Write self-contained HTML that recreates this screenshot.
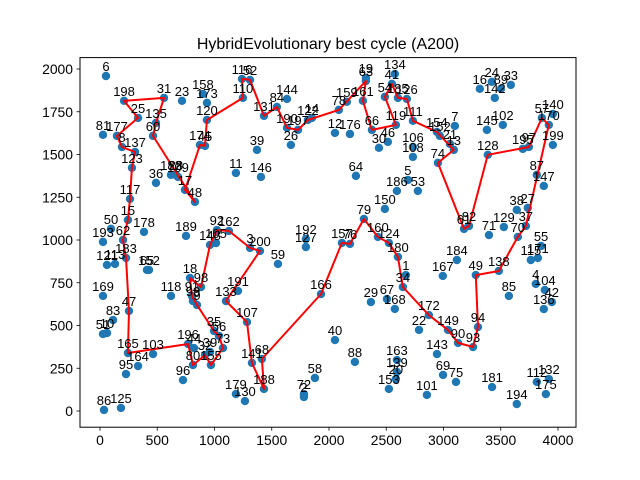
<!DOCTYPE html>
<html><head><meta charset="utf-8"><style>
body{margin:0;background:#fff;}
svg{display:block;font-family:"Liberation Sans","DejaVu Sans",sans-serif;}
</style></head><body>
<svg id="chart" width="640" height="480" xmlns="http://www.w3.org/2000/svg">
<rect x="0" y="0" width="640" height="480" fill="#fff"/>
<text x="328" y="49" font-size="16" text-anchor="middle">HybridEvolutionary best cycle (A200)</text>
<g id="plot"></g>
<rect x="80" y="57.6" width="496" height="369.6" fill="none" stroke="#000" stroke-width="1"/>
</svg>
<script>
const cityLabels=[6,198,31,23,158,173,120,25,135,60,81,177,8,137,123,36,182,28,109,17,48,174,45,11,117,15,50,178,189,193,62,116,52,110,131,84,144,190,197,26,122,14,39,146,78,159,12,176,19,63,161,66,30,46,134,41,54,185,119,64,186,150,79,192,127,157,76,160,124,200,3,126,111,154,152,21,13,7,74,106,108,5,53,16,24,89,33,142,145,102,128,57,140,170,199,195,97,87,147,38,27,37,129,70,71,61,82,55,183,121,113,65,152,169,47,83,51,10,165,103,164,95,86,125,118,18,98,91,99,9,196,44,80,32,39,155,35,56,73,96,191,133,107,179,130,141,68,188,59,166,40,58,72,2,88,29,67,168,180,1,34,163,139,20,153,184,167,49,138,85,115,171,4,104,42,136,172,22,149,90,93,94,143,69,75,101,181,194,112,132,175,92,105,148,162];
const cityX=[52,210,559,716,899,934,934,332,489,463,26,148,192,306,279,489,620,663,681,742,829,873,917,1187,262,244,96,384,751,26,201,1240,1310,1248,1432,1545,1633,1633,1729,1667,1816,1851,1371,1406,2086,2156,2052,2183,2322,2322,2296,2375,2436,2514,2575,2549,2488,2602,2584,2235,2593,2488,2305,1798,1798,2113,2183,2427,2523,1397,1310,2680,2733,2942,2968,3056,3090,3099,2951,2733,2733,2689,2776,3317,3422,3501,3588,3448,3379,3518,3387,3859,3955,3920,3955,3693,3745,3815,3876,3640,3736,3719,3527,3649,3397,3179,3223,3852,227,61,131,410,428,26,253,114,26,61,244,463,332,227,35,183,620,786,882,803,812,847,769,821,812,917,961,969,996,1039,1074,725,1205,1100,1284,1187,1266,1327,1414,1432,1554,1930,2052,1877,1781,1781,2226,2366,2506,2575,2602,2671,2645,2593,2593,2584,2523,3117,2994,3282,3483,3571,3763,3824,3806,3885,3946,3876,2872,2786,3039,3127,3258,3301,2943,2996,3109,2855,3424,3640,3815,3920,3894,1021,1013,961,1126];
const cityY=[1959,1814,1831,1814,1854,1802,1702,1714,1685,1609,1615,1609,1544,1515,1422,1334,1381,1381,1369,1293,1223,1556,1550,1392,1240,1117,1065,1047,1024,989,1000,1942,1936,1831,1726,1778,1825,1656,1644,1556,1702,1714,1527,1369,1761,1808,1626,1620,1948,1930,1814,1644,1539,1574,1971,1913,1837,1831,1673,1375,1287,1182,1123,1006,959,983,977,1018,983,936,954,1825,1697,1632,1609,1562,1527,1667,1451,1544,1486,1351,1287,1884,1925,1884,1907,1831,1644,1673,1498,1714,1737,1673,1556,1533,1544,1381,1316,1176,1188,1082,1076,1018,1029,1065,1082,965,895,854,860,825,825,673,585,532,450,456,339,333,263,216,6,18,673,778,725,673,643,620,392,368,269,327,345,269,468,439,368,181,702,643,520,99,58,281,304,129,860,684,415,193,99,82,287,637,655,597,901,795,725,298,228,187,129,883,790,795,819,673,883,895,743,708,637,596,561,474,474,398,374,491,333,211,170,94,140,41,170,187,99,1058,982,971,1053];
const tour=[120,110,116,52,131,84,190,197,122,78,63,161,66,119,54,41,185,126,111,154,13,74,61,82,128,97,57,170,37,70,138,49,94,93,90,149,172,34,180,124,160,79,76,157,166,68,188,141,107,133,200,3,162,92,148,98,18,91,9,35,56,73,155,32,80,196,165,47,183,62,15,117,123,137,8,177,25,198,31,135,60,48,17,174,45];
const xTicks=[0,500,1000,1500,2000,2500,3000,3500,4000];
const yTicks=[0,250,500,750,1000,1250,1500,1750,2000];

const NS="http://www.w3.org/2000/svg";
const sx=v=>100+v*0.1145;
const sy=v=>411-v*0.171;
const svg=document.getElementById('chart');
const plot=document.getElementById('plot');
function mk(tag,attrs,parent){const e=document.createElementNS(NS,tag);for(const k in attrs)e.setAttribute(k,attrs[k]);(parent||plot).appendChild(e);return e;}

xTicks.forEach(t=>{
  const x=sx(t);
  const l=mk('line',{x1:x,x2:x,y1:427.2,y2:430.7,stroke:'#000','stroke-width':0.8},svg);
  
  
  const tx=mk('text',{x:x,y:445,'font-size':13.9,'text-anchor':'middle'},svg);
  tx.textContent=t;
  
  
});
yTicks.forEach(t=>{
  const y=sy(t);
  const l=mk('line',{x1:76.5,x2:80,y1:y,y2:y,stroke:'#000','stroke-width':0.8},svg);
  
  
  const tx=mk('text',{x:73,y:y+5,'font-size':13.9,'text-anchor':'end'},svg);
  tx.textContent=t;
  
  
});

cityLabels.forEach((lab,i)=>{
  const c=mk('circle',{cx:sx(cityX[i]),cy:sy(cityY[i]),r:4.2,fill:'#1f77b4'});
  
  
});
const idx={};cityLabels.forEach((l,i)=>{if(!(l in idx))idx[l]=i;});
const pts=tour.concat([tour[0]]).map(l=>{const i=idx[l];return sx(cityX[i]).toFixed(1)+','+sy(cityY[i]).toFixed(1);}).join(' ');
const pl=mk('polyline',{points:pts,fill:'none',stroke:'#ff0000','stroke-width':2,'stroke-linejoin':'round'});


cityLabels.forEach((lab,i)=>{
  const t=mk('text',{x:sx(cityX[i]),y:sy(cityY[i])-5,'font-size':13,'text-anchor':'middle',fill:'#000'});
  t.textContent=lab;
  
  
});
</script>
</body></html>
